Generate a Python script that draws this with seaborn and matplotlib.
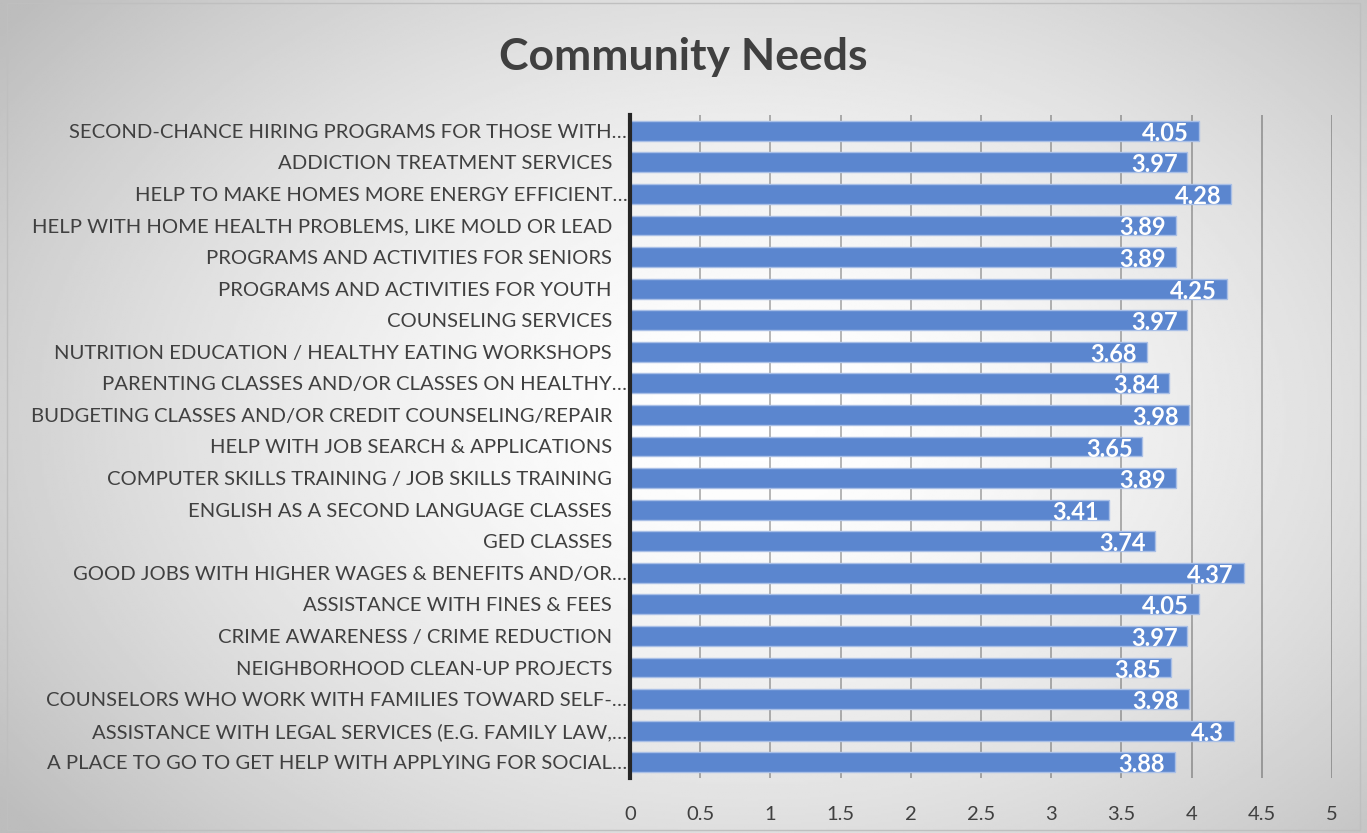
import numpy as np
import pandas as pd
import matplotlib
matplotlib.use("Agg")
import matplotlib.pyplot as plt
import seaborn as sns

# 数据：从上到下（部分标签在原图中带尾随空格）
needs = [
    "SECOND-CHANCE HIRING PROGRAMS FOR THOSE WITH…",
    "ADDICTION TREATMENT SERVICES ",
    "HELP TO MAKE HOMES MORE ENERGY EFFICIENT…",
    "HELP WITH HOME HEALTH PROBLEMS, LIKE MOLD OR LEAD ",
    "PROGRAMS AND ACTIVITIES FOR SENIORS ",
    "PROGRAMS AND ACTIVITIES FOR YOUTH ",
    "COUNSELING SERVICES ",
    "NUTRITION EDUCATION / HEALTHY EATING WORKSHOPS ",
    "PARENTING CLASSES AND/OR CLASSES ON HEALTHY…",
    "BUDGETING CLASSES AND/OR CREDIT COUNSELING/REPAIR ",
    "HELP WITH JOB SEARCH & APPLICATIONS ",
    "COMPUTER SKILLS TRAINING / JOB SKILLS TRAINING ",
    "ENGLISH AS A SECOND LANGUAGE CLASSES ",
    "GED CLASSES ",
    "GOOD JOBS WITH HIGHER WAGES & BENEFITS AND/OR…",
    "ASSISTANCE WITH FINES & FEES ",
    "CRIME AWARENESS / CRIME REDUCTION ",
    "NEIGHBORHOOD CLEAN-UP PROJECTS ",
    "COUNSELORS WHO WORK WITH FAMILIES TOWARD SELF-…",
    "ASSISTANCE WITH LEGAL SERVICES (E.G. FAMILY LAW,…",
    "A PLACE TO GO TO GET HELP WITH APPLYING FOR SOCIAL…",
]
scores = [4.05, 3.97, 4.28, 3.89, 3.89, 4.25, 3.97, 3.68, 3.84, 3.98, 3.65,
          3.89, 3.41, 3.74, 4.37, 4.05, 3.97, 3.85, 3.98, 4.3, 3.88]
score_labels = ["4.05", "3.97", "4.28", "3.89", "3.89", "4.25", "3.97", "3.68", "3.84",
                "3.98", "3.65", "3.89", "3.41", "3.74", "4.37", "4.05", "3.97", "3.85",
                "3.98", "4.3", "3.88"]
x_ticks = [0, 0.5, 1, 1.5, 2, 2.5, 3, 3.5, 4, 4.5, 5]
x_tick_labels = ["0", "0.5", "1", "1.5", "2", "2.5", "3", "3.5", "4", "4.5", "5"]

BAR_COLOR = "#5B86CF"
TEXT_COLOR = "#404040"

sns.set_theme(style="white")
plt.rcParams["font.family"] = ["Lato", "DejaVu Sans"]

# 尾随空格换成不换行空格，matplotlib 才会保留这段间距
df = pd.DataFrame({
    "need": [n[:-1] + "\u00a0\u00a0\u00a0" if n.endswith(" ") else n for n in needs],
    "score": scores,
})

fig = plt.figure(figsize=(13.67, 8.33), dpi=100)

# 背景：径向渐变
bg = fig.add_axes([0, 0, 1, 1], zorder=-10)
yy, xx = np.mgrid[0:1:400j, 0:1:600j]
r = np.sqrt(((xx - 0.55) / 0.75) ** 2 + ((yy - 0.5) / 0.85) ** 2)
shade = np.clip(1.0 - 0.30 * r ** 1.6, 0.74, 1.0)
bg.imshow(shade, cmap="gray", vmin=0, vmax=1, aspect="auto",
          extent=[0, 1, 0, 1], origin="upper")
bg.add_patch(plt.Rectangle((0.005, 0.004), 0.99, 0.992, fill=False,
                           edgecolor="#BFBFBF", linewidth=1.0))
bg.set_xlim(0, 1)
bg.set_ylim(0, 1)
bg.axis("off")

ax = fig.add_axes([0.4609, 0.066, 0.5135, 0.796])
ax.patch.set_alpha(0)

sns.barplot(data=df, x="score", y="need", orient="h", color=BAR_COLOR,
            width=0.63, saturation=1, edgecolor="#A9BFE6", linewidth=1.0,
            ax=ax, zorder=3)

for i, (v, lab) in enumerate(zip(scores, score_labels)):
    ax.text(v - 0.07, i + 0.08, lab, ha="right", va="center", color="white",
            fontsize=17, fontweight="bold", zorder=5)

ax.set_xlim(0, 5)
ax.set_ylim(len(needs) - 0.5, -0.5)
ax.set_xticks(x_ticks)
ax.set_xticklabels(x_tick_labels)
ax.xaxis.grid(True, color="black", alpha=0.3, linewidth=1.3)
ax.set_axisbelow(False)
for gl in ax.get_xgridlines():
    gl.set_zorder(4)
ax.tick_params(axis="x", length=0, pad=20, labelsize=14.5, labelcolor=TEXT_COLOR)
ax.tick_params(axis="y", length=0, pad=2, labelsize=14.6, labelcolor=TEXT_COLOR)
ax.set_xlabel("")
ax.set_ylabel("")
for side in ["top", "right", "bottom"]:
    ax.spines[side].set_visible(False)
ax.spines["left"].set_color("#262626")
ax.spines["left"].set_linewidth(3)
ax.spines["left"].set_zorder(6)

fig.text(0.5, 0.932, "Community Needs", ha="center", va="center",
         fontsize=32, fontweight="bold", color=TEXT_COLOR)

fig.savefig("out.png", dpi=100)
